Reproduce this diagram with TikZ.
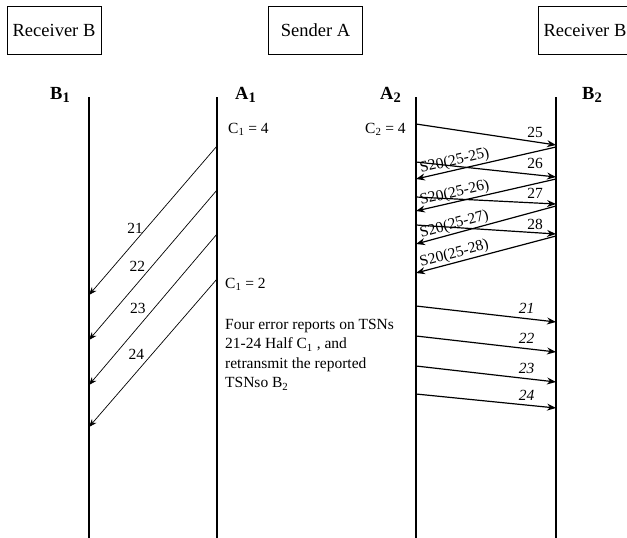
\documentclass[tikz,border=0pt]{standalone}
\usepackage{fontspec}
\setmainfont{Liberation Serif}
\usetikzlibrary{arrows.meta}

\newcommand\lsub[1]{\raisebox{-0.4ex}{\fontsize{14.5}{15}\selectfont #1}}

\tikzset{
  party/.style={draw, line width=1pt, minimum width=94pt, minimum height=48pt,
    font=\fontsize{18.5}{22}\selectfont},
  lifeline/.style={line width=1.5pt},
  lname/.style={anchor=base west, inner sep=0pt, font=\fontsize{18.5}{20}\selectfont\bfseries},
  lost/.style={line width=0.7pt, -{Stealth[length=8pt,width=6pt]}},
  msg/.style={line width=1.2pt, -{Stealth[length=9pt,width=7pt]}},
  num/.style={font=\fontsize{15.5}{19.5}\selectfont},
  inum/.style={font=\fontsize{15.5}{19.5}\selectfont\itshape},
  sack/.style={font=\fontsize{15.5}{19.5}\selectfont, sloped, above=1pt, inner sep=0pt},
}

\begin{document}
\begin{tikzpicture}[x=1pt, y=-1pt, font=\fontsize{15.5}{19.5}\selectfont]
  \useasboundingbox (0,0) rectangle (627,538);
  \clip (0,0) rectangle (627,538);

  % Parties
  \node[party] (recvB1) at (54,30) {Receiver B};
  \node[party] (sendA) at (315.5,30) {Sender A};
  \node[party] (recvB2) at (585,30) {Receiver B};

  % Lifelines
  \coordinate (B1) at (89,97);   \coordinate (B1end) at (89,540);
  \coordinate (A1) at (217,97);  \coordinate (A1end) at (217,540);
  \coordinate (A2) at (416,97);  \coordinate (A2end) at (416,540);
  \coordinate (B2) at (556,97);  \coordinate (B2end) at (556,540);
  \draw[lifeline, line width=2.4pt] (B1) -- (B1end);
  \draw[lifeline] (A1) -- (A1end);
  \draw[lifeline] (A2) -- (A2end);
  \draw[lifeline] (B2) -- (B2end);

  \node[lname] (nB1) at (50,99) {B\lsub{1}};
  \node[lname] (nA1) at (235,99) {A\lsub{1}};
  \node[lname] (nA2) at (380,99) {A\lsub{2}};
  \node[lname] (nB2) at (582,99) {B\lsub{2}};

  % Congestion windows
  \node[anchor=west, inner sep=0pt] (cwA1) at (228,129) {C\textsubscript{1} = 4};
  \node[anchor=west, inner sep=0pt] (cwA2) at (365,129) {C\textsubscript{2} = 4};
  \node[anchor=west, inner sep=0pt] (cwA1half) at (225,284) {C\textsubscript{1} = 2};

  % Note
  \node[anchor=north west, inner sep=0pt, align=left] (note) at (225,319)
    {Four error reports on TSNs\\21-24 Half C\textsubscript{1} , and\\retransmit the reported\\TSNso B\textsubscript{2}};

  % Path 1: TSNs 21-24 lost
  \draw[lost] (A1 |- 0,146) -- (B1 |- 0,295) node[num, pos=0.55, left=0pt] (l21) {21};
  \draw[lost] (A1 |- 0,190) -- (B1 |- 0,340) node[num, pos=0.51, left=3pt] (l22) {22};
  \draw[lost] (A1 |- 0,234) -- (B1 |- 0,385) node[num, pos=0.49, left=5pt] (l23) {23};
  \draw[lost] (A1 |- 0,279) -- (B1 |- 0,427) node[num, pos=0.51, left=4pt] (l24) {24};

  % Path 2: TSNs 25-28 and SACKs
  \draw[msg] (A2 |- 0,124) -- (B2 |- 0,145) node[num, pos=0.85, above=0pt] (m25) {25};
  \draw[msg] (B2 |- 0,147) -- (A2 |- 0,179) node[sack, pos=0.71] (s25) {S20(25-25)};
  \draw[msg] (A2 |- 0,162) -- (B2 |- 0,177) node[num, pos=0.85, above=2pt] (m26) {26};
  \draw[msg] (B2 |- 0,179) -- (A2 |- 0,211) node[sack, pos=0.71] (s26) {S20(25-26)};
  \draw[msg] (A2 |- 0,197) -- (B2 |- 0,204) node[num, pos=0.85, above=1pt] (m27) {27};
  \draw[msg] (B2 |- 0,206) -- (A2 |- 0,244) node[sack, pos=0.71] (s27) {S20(25-27)};
  \draw[msg] (A2 |- 0,225) -- (B2 |- 0,234) node[num, pos=0.85, above=-1pt] (m28) {28};
  \draw[msg] (B2 |- 0,236) -- (A2 |- 0,273) node[sack, pos=0.71] (s28) {S20(25-28)};

  % Path 2: retransmitted TSNs 21-24
  \draw[msg] (A2 |- 0,306) -- (B2 |- 0,322) node[inum, pos=0.79, above=1pt] (r21) {21};
  \draw[msg] (A2 |- 0,336) -- (B2 |- 0,352) node[inum, pos=0.79, above=1pt] (r22) {22};
  \draw[msg] (A2 |- 0,366) -- (B2 |- 0,382) node[inum, pos=0.79, above=1pt] (r23) {23};
  \draw[msg] (A2 |- 0,394) -- (B2 |- 0,408) node[inum, pos=0.79, above=1pt] (r24) {24};
\end{tikzpicture}
\end{document}
